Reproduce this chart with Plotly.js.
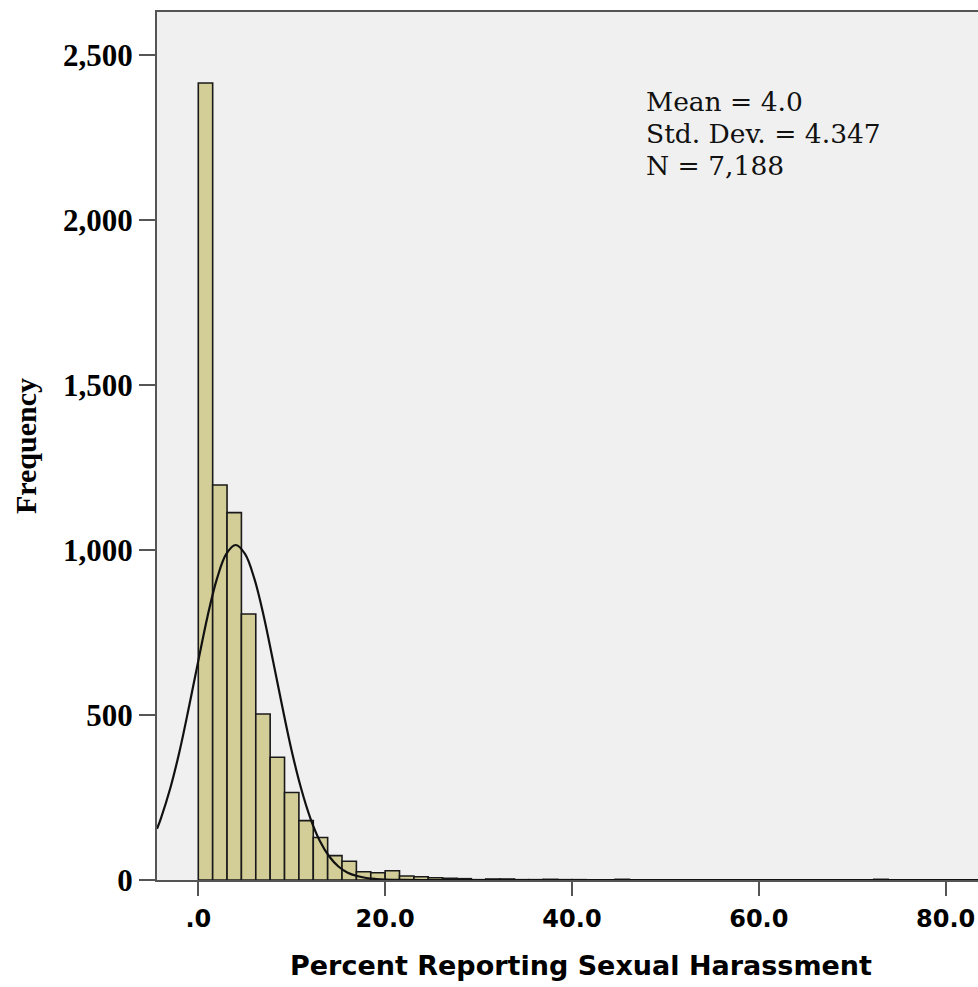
<!DOCTYPE html>
<html>
<head>
<meta charset="utf-8">
<script src="https://cdn.plot.ly/plotly-3.0.1.min.js"></script>
<style>
html, body { margin: 0; padding: 0; overflow: hidden; background: #ffffff; }
#chart { width: 1015px; height: 987px; }
</style>
</head>
<body>
<div id="chart"></div>
<script>
// Histogram bins (SPSS): first bin starts at 0, bin width = 20/13
const binStart = 0;
const binWidth = 20 / 13;
const counts = [2415, 1197, 1113, 806, 503, 372, 265, 180, 129, 74,
                57, 25, 22, 28, 12, 10, 7, 5, 4, 1,
                3, 3, 1, 1, 2, 1, 1, 0, 0, 2,
                0, 0, 0, 0, 0, 0, 0, 0, 0, 0,
                0, 0, 0, 0, 0, 0, 0, 2, 0, 0,
                0, 0, 0, 0];

// Normal curve overlay
const curveX = [-4.42, -4, -3, -2, -1, 0, 1, 2, 3, 4, 5, 6, 7, 8, 9, 10, 11, 12, 13, 14, 15, 16, 17, 18, 19, 20, 21, 22, 24, 27, 35, 50, 70, 87];
const curveY = [155, 187, 278, 391, 524, 664, 800, 913, 988, 1015, 988, 913, 800, 664, 524, 391, 278, 187, 119, 72, 41, 22, 12, 6, 3, 1.2, 0.5, 0.2, 0, 0, 0, 0, 0, 0];

const xTickVals = [0, 20, 40, 60, 80];
const xTickText = ['.0', '20.0', '40.0', '60.0', '80.0'];
const yTickVals = [0, 500, 1000, 1500, 2000, 2500];
const yTickText = ['0', '500', '1,000', '1,500', '2,000', '2,500'];

const statsLines = ['Mean = 4.0', 'Std. Dev. = 4.347', 'N = 7,188'];
const statsY = [2359, 2263, 2166];

const binCenters = counts.map((c, i) => binStart + (i + 0.5) * binWidth);

const bars = {
  type: 'bar',
  x: binCenters,
  y: counts,
  width: binWidth,
  marker: { color: '#D3CE97', line: { color: '#1a1a1a', width: 1.6 } },
  hoverinfo: 'x+y',
  showlegend: false
};

const curve = {
  type: 'scatter',
  mode: 'lines',
  x: curveX,
  y: curveY,
  line: { color: '#111111', width: 2.2, shape: 'spline', smoothing: 1 },
  hoverinfo: 'skip',
  showlegend: false
};

const axisLine = '#555555';

const layout = {
  width: 1015,
  height: 987,
  margin: { l: 157, r: 10, t: 12, b: 107 },
  paper_bgcolor: '#ffffff',
  plot_bgcolor: '#F0F0F0',
  bargap: 0,
  xaxis: {
    range: [-4.42, 86.35],
    tickvals: xTickVals,
    ticktext: xTickText,
    ticks: 'outside',
    ticklen: 14,
    tickwidth: 2,
    tickcolor: axisLine,
    showline: true,
    linecolor: axisLine,
    linewidth: 2,
    mirror: true,
    showgrid: false,
    zeroline: false,
    ticklabelstandoff: 2,
    tickfont: { family: 'DejaVu Sans', size: 24, color: '#000000', weight: 'bold' },
    title: {
      text: 'Percent Reporting Sexual Harassment',
      font: { family: 'DejaVu Sans', size: 27, color: '#000000', weight: 'bold' },
      standoff: 24
    }
  },
  yaxis: {
    range: [0, 2630],
    tickvals: yTickVals,
    ticktext: yTickText,
    ticks: 'outside',
    ticklen: 16,
    tickwidth: 2,
    tickcolor: axisLine,
    showline: true,
    linecolor: axisLine,
    linewidth: 2,
    mirror: true,
    showgrid: false,
    zeroline: false,
    tickfont: { family: 'Liberation Serif', size: 31, color: '#000000', weight: 'bold' },
    title: {
      text: 'Frequency',
      font: { family: 'Liberation Serif', size: 30, color: '#000000', weight: 'bold' },
      standoff: 18
    }
  },
  annotations: statsLines.map((t, i) => ({
    xref: 'x', yref: 'y',
    x: 47.7, y: statsY[i],
    xanchor: 'left', yanchor: 'middle',
    text: t,
    showarrow: false,
    font: { family: 'DejaVu Serif', size: 26.5, color: '#111111' }
  }))
};

Plotly.newPlot('chart', [bars, curve], layout, { displayModeBar: false, staticPlot: true });
</script>
</body>
</html>
